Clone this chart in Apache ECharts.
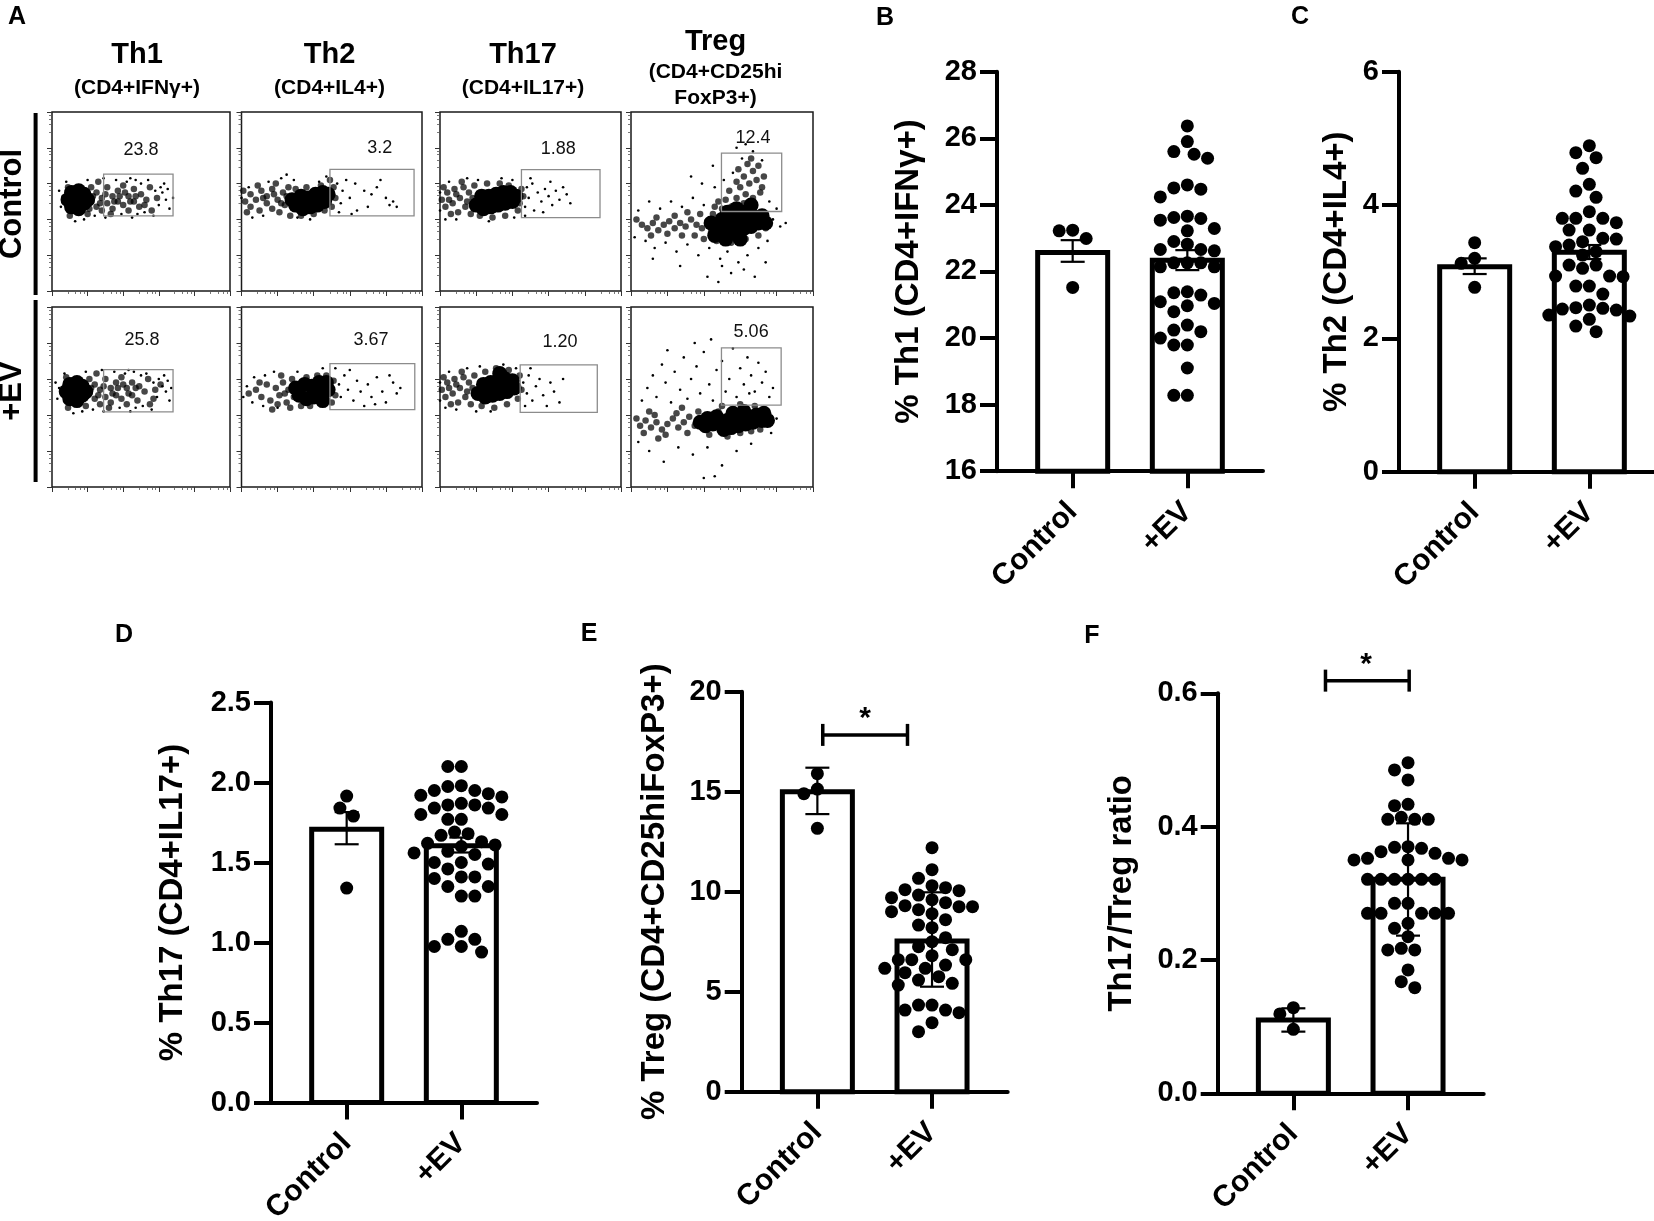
<!DOCTYPE html>
<html>
<head>
<meta charset="utf-8">
<script src="https://cdn.jsdelivr.net/npm/echarts@6/dist/echarts.min.js"></script>
<style>
  html, body { margin: 0; background: #fff; }
  #main { width: 1654px; height: 1221px; }
</style>
</head>
<body>
<div id="main"></div>
<script>
// ---- bar + dot panels (B-F) ----
const groups = ['Control', '+EV'];

const th1Control = [23.22, 23.24, 22.99, 21.52];
const th1EV = [26.37, 25.9, 25.6, 25.52, 25.4, 24.6, 24.51, 24.47, 24.24, 23.66, 23.62, 23.59, 23.54, 23.29,
  23.22, 22.9, 22.82, 22.66, 22.66, 22.62, 22.26, 22.26, 22.26, 22.14, 22.14, 21.39, 21.36, 21.29, 21.09,
  21.04, 20.97, 20.79, 20.39, 20.24, 20.19, 20.0, 19.79, 19.79, 19.1, 18.28, 18.28];
const th1Mean = [22.57, 22.34];
const th1Err = [[22.29, 22.94], [22.04, 22.64]];

const th2Control = [3.435, 3.2, 3.125, 2.765];
const th2EV = [4.89, 4.785, 4.71, 4.55, 4.31, 4.21, 4.115, 3.9, 3.8, 3.8, 3.8, 3.735, 3.625, 3.625, 3.5, 3.49,
  3.45, 3.4, 3.375, 3.3, 3.25, 3.1, 3.1, 3.05, 2.935, 2.935, 2.925, 2.785, 2.785, 2.665, 2.5, 2.46, 2.45, 2.44,
  2.425, 2.35, 2.335, 2.285, 2.185, 2.1];
const th2Mean = [3.075, 3.29];
const th2Err = [[2.965, 3.2], [3.19, 3.4]];

const th17Control = [1.915, 1.84, 1.79, 1.34];
const th17EV = [2.1, 2.1, 1.98, 1.975, 1.95, 1.95, 1.93, 1.92, 1.91, 1.87, 1.86, 1.86, 1.84, 1.84, 1.8, 1.8,
  1.77, 1.77, 1.69, 1.68, 1.67, 1.63, 1.62, 1.61, 1.6, 1.57, 1.56, 1.55, 1.5, 1.5, 1.49, 1.46, 1.41, 1.41, 1.4,
  1.35, 1.35, 1.29, 1.29, 1.07, 1.02, 1.02, 0.975, 0.975, 0.94];
const th17Mean = [1.708, 1.604];
const th17Err = [[1.614, 1.815], [1.5625, 1.656]];

const tregControl = [15.9, 15.13, 14.9, 13.17];
const tregEV = [12.2, 11.1, 10.67, 10.3, 10.2, 10.1, 10.05, 9.83, 9.7, 9.6, 9.45, 9.3, 9.25, 9.25, 9.1, 9.0,
  8.9, 8.6, 8.33, 8.2, 7.7, 7.5, 7.25, 7.1, 6.8, 6.6, 6.6, 6.6, 6.33, 6.17, 6.17, 5.95, 5.75, 5.58, 5.42, 5.33,
  4.33, 4.33, 4.08, 4.08, 3.95, 3.45, 3.0];
const tregMean = [15.0, 7.53];
const tregErr = [[13.88, 16.2], [5.25, 9.97]];
const tregSig = [1.047, 1.786, 17.84];   // from, to, level
const tregStar = [1.417, 19.0];

const ratioControl = [0.1285, 0.119, 0.096];
const ratioEV = [0.496, 0.485, 0.47, 0.4335, 0.4315, 0.414, 0.411, 0.411, 0.411, 0.37, 0.369, 0.3675, 0.3625,
  0.36, 0.3525, 0.3525, 0.35, 0.35, 0.35, 0.321, 0.321, 0.321, 0.321, 0.321, 0.321, 0.285, 0.285, 0.27, 0.27,
  0.27, 0.27, 0.27, 0.255, 0.2475, 0.235, 0.2175, 0.215, 0.215, 0.185, 0.1675, 0.1585];
const ratioMean = [0.11, 0.321];
const ratioErr = [[0.0925, 0.1275], [0.2365, 0.405]];
const ratioSig = [1.28, 2.01, 0.619];
const ratioStar = [1.634, 0.653];

// ---- flow cytometry dot plots (panel A), coordinates in % of plot box ----
const flowTitles = ['Th1', 'Th2', 'Th17', 'Treg'];
const flowSubtitles = [['(CD4+IFNγ+)'], ['(CD4+IL4+)'], ['(CD4+IL17+)'], ['(CD4+CD25hi', 'FoxP3+)']];
const rowLabels = ['Control', '+EV'];
const gateControlPct = ['23.8', '3.2', '1.88', '12.4'];
const gateEVPct = ['25.8', '3.67', '1.20', '5.06'];
const gatesControl = [[29, 42, 68, 65.3], [49, 42, 95.6, 68], [45, 41, 88.4, 67.8], [49.7, 44.4, 82.8, 77]];
const gatesEV = [[29, 41.7, 68, 65.2], [49, 43, 96, 68.5], [44.3, 41.5, 86.9, 67.8], [49.7, 45.5, 82.5, 77.3]];
const gateLabelControl = [[50, 78.6], [76.6, 80], [65.3, 79.4], [67, 85.3]];
const gateLabelEV = [[50.6, 81.5], [71.7, 81.5], [66.3, 80.5], [66, 86]];

const th1CtrlCore = [[11,47],[15,46],[18,49],[11,55],[15,56],[18,54],[14,51],[9,51],[20,51]];
const th1CtrlMid = [[22,50],[25,47],[25,55],[28,52],[28,45],[31,58],[31,49],[34,53],[34,46],[37,56],[37,50],[40,48],
  [40,59],[43,53],[43,45],[46,57],[46,50],[49,47],[50,54],[53,51],[55,58],[56,45],[59,52],[22,58],[20,43],[9,58],[7,50],
  [10,42],[26,61],[33,43],[23,53],[27,49],[30,54],[35,50],[38,53],[41,55],[44,50],[47,53],[52,48],[21,46]];
const th1CtrlSparse = [[6,53],[5,47],[8,61],[20,62],[24,42],[30,41],[36,62],[39,43],[42,61],[47,62],[52,44],[54,62],
  [58,56],[60,48],[62,55],[64,51],[66,46],[63,60],[57,42],[45,41],[48,43],[50,60],[44,63],[29,63],[18,40],[13,39],
  [61,58],[65,57],[4,56],[68,52]];

const th1EvCore = [[10,49],[14,48],[17,51],[10,57],[14,58],[17,56],[13,53],[8,53],[19,53]];
const th1EvMid = [[21,52],[24,49],[24,57],[27,54],[27,46],[30,60],[30,50],[33,55],[33,47],[36,58],[36,51],[39,49],
  [39,61],[42,55],[42,46],[45,58],[45,51],[48,48],[49,56],[52,53],[54,60],[55,46],[58,54],[21,60],[19,45],[8,61],[6,52],
  [9,44],[25,63],[32,44],[57,49],[61,57],[22,55],[26,51],[29,56],[34,52],[37,55],[40,57],[43,52],[47,55]];
const th1EvSparse = [[4,55],[3,49],[7,63],[19,64],[23,43],[29,42],[35,64],[38,44],[41,63],[46,64],[51,45],[53,63],
  [57,58],[59,50],[62,56],[64,53],[66,48],[63,62],[56,43],[44,42],[47,44],[50,62],[43,65],[28,65],[17,42],[12,41],
  [60,60],[65,59],[2,58],[67,55]];

const th2CtrlCore = [[30,48],[34,46],[38,47],[42,48],[46,50],[33,53],[37,52],[41,54],[45,55],[39,50],[48,54],[28,51]];
const th2CtrlMid = [[2,50],[5,47],[5,54],[8,51],[10,45],[11,56],[14,49],[14,53],[17,46],[17,57],[20,51],[21,44],
  [23,55],[24,48],[26,58],[3,44],[1,56],[9,59],[19,60],[27,42],[33,42],[40,43],[46,45],[50,47],[51,58],[44,59],[36,58],
  [30,57],[49,62],[52,52],[12,52],[18,54],[22,49],[25,53]];
const th2CtrlSparse = [[0,52],[4,58],[12,42],[15,61],[22,63],[29,62],[31,41],[38,40],[43,61],[53,60],[55,49],[56,56],
  [58,62],[60,52],[63,60],[68,56],[72,54],[75,58],[80,52],[82,48],[84,50],[86,47],[70,47],[64,45],[77,62],[61,43],
  [54,44],[6,41],[25,65],[47,64]];

const th2EvCore = [[32,51],[36,49],[40,50],[44,52],[48,54],[35,57],[39,56],[43,58],[47,58],[41,54],[30,55],[45,48]];
const th2EvMid = [[4,52],[8,54],[11,50],[14,57],[16,48],[19,55],[21,51],[23,58],[25,47],[26,54],[28,60],[29,50],
  [33,45],[38,45],[47,62],[51,59],[52,51],[50,47],[42,62],[36,61],[27,44],[22,62],[17,43],[10,58],[24,52],[20,46]];
const th2EvSparse = [[1,50],[3,56],[6,47],[7,61],[12,45],[13,62],[18,64],[20,44],[31,64],[54,57],[55,50],[57,62],
  [59,54],[62,48],[64,59],[66,53],[70,57],[72,50],[75,61],[78,53],[80,47],[84,58],[86,52],[88,55],[68,45],[60,65],
  [52,66],[45,66],[82,62],[74,46]];

const th17CtrlCore = [[20,48],[24,46],[28,47],[32,48],[36,49],[40,50],[23,53],[27,53],[31,54],[35,55],[39,55],[30,50],[42,53]];
const th17CtrlMid = [[1,51],[3,47],[4,55],[7,49],[8,57],[10,44],[11,52],[13,58],[14,47],[16,55],[17,43],[19,59],
  [2,58],[6,43],[22,42],[29,41],[36,42],[43,45],[45,57],[44,49],[38,59],[33,60],[26,60],[12,61],[46,53],[5,51],[9,54],
  [15,50],[18,52]];
const th17CtrlSparse = [[0,45],[0,55],[5,61],[9,40],[15,63],[21,62],[27,39],[34,63],[40,62],[41,41],[47,47],[48,58],
  [49,52],[51,60],[52,45],[54,55],[56,50],[58,57],[60,53],[62,48],[64,56],[66,51],[68,58],[70,54],[72,49],[57,44],
  [61,61],[50,63],[47,42],[3,40]];

const th17EvCore = [[21,52],[25,50],[29,51],[33,52],[37,53],[41,55],[24,57],[28,58],[32,59],[36,60],[40,59],[30,55],[33,63]];
const th17EvMid = [[1,54],[3,50],[4,58],[7,52],[8,60],[10,47],[11,55],[13,61],[14,50],[16,58],[17,46],[19,62],
  [2,61],[6,46],[23,45],[30,44],[37,46],[43,49],[44,62],[45,54],[38,65],[31,66],[25,64],[12,64],[5,55],[9,57],
  [15,53],[18,55]];
const th17EvSparse = [[0,48],[0,58],[5,64],[9,43],[15,66],[22,67],[28,42],[35,68],[42,66],[46,58],[48,52],[49,62],
  [51,48],[53,56],[55,60],[57,51],[59,45],[61,58],[63,53],[66,47],[68,60],[47,45],[50,66],[3,44],[20,42]];

const tregCtrlCore = [[48,34],[52,36],[56,37],[60,38],[64,40],[68,41],[54,32],[58,33],[62,35],[66,36],[57,42],
  [61,44],[65,45],[70,38],[50,40],[44,38],[46,31],[72,42],[74,38],[58,46],[53,44],[66,48],[60,29],[52,29]];
const tregCtrlMid = [[6,37],[9,35],[12,38],[15,34],[18,37],[21,39],[24,35],[27,38],[30,36],[33,40],[36,37],[39,35],
  [42,39],[44,33],[45,43],[14,41],[20,32],[28,31],[35,31],[40,29],[47,28],[55,27],[63,29],[70,31],[74,35],[73,44],
  [68,48],[62,49],[55,47],[50,46],[46,47],[58,52],[63,54],[67,52],[71,55],[60,58],[65,60],[69,62],[72,58],[62,64],
  [67,67],[70,70],[64,71],[58,61],[54,56],[66,74],[59,68],[73,64],[52,51],[48,50],[38,43],[31,44],[24,42],[11,31],[3,40]];
const tregCtrlSparse = [[2,30],[4,45],[8,28],[10,50],[13,24],[16,46],[19,27],[22,50],[25,22],[28,47],[31,26],[34,52],
  [37,20],[40,48],[43,24],[46,58],[49,18],[51,62],[53,22],[56,66],[59,16],[61,74],[64,20],[67,78],[70,24],[72,73],
  [75,28],[76,50],[78,40],[80,46],[82,36],[85,38],[42,8],[48,5],[55,10],[62,12],[50,14],[39,60],[33,64],[45,70],
  [12,18],[27,14],[74,16],[68,8],[58,80],[63,82]];

const tregEvCore = [[45,35],[49,36],[53,37],[57,38],[61,38],[65,39],[69,40],[51,32],[55,33],[59,34],[63,35],[67,36],
  [56,41],[62,42],[72,37],[38,36],[41,34],[73,41],[75,37],[47,39],[42,38]];
const tregEvMid = [[5,34],[8,37],[11,33],[14,36],[17,32],[20,35],[23,38],[26,33],[29,36],[32,39],[35,34],[38,37],
  [41,33],[42,40],[7,30],[13,40],[19,29],[25,41],[31,30],[37,42],[43,29],[48,42],[53,28],[60,30],[66,31],[71,32],
  [75,35],[74,42],[68,45],[60,46],[50,45],[3,38],[28,44],[15,27],[10,42]];
const tregEvSparse = [[6,48],[9,55],[12,62],[14,50],[17,68],[19,58],[22,47],[24,64],[27,54],[29,72],[31,49],[33,60],
  [36,67],[38,52],[40,75],[43,57],[45,48],[47,65],[50,70],[52,53],[54,60],[56,77],[58,50],[60,66],[62,57],[64,72],
  [66,62],[68,53],[70,69],[72,58],[74,64],[76,50],[78,55],[35,80],[20,76],[44,82],[4,25],[10,20],[18,14],[26,22],
  [34,18],[42,22],[50,12],[58,20],[66,24],[40,5],[46,6],[77,30],[80,38],[65,52]];

// ---------------------------------------------------------------
const SANS = "'Liberation Sans', Arial, Helvetica, sans-serif";
const NARROW = "'Liberation Sans Narrow', 'Liberation Sans', Arial, sans-serif";

const chart = echarts.init(document.getElementById('main'), null, { width: 1654, height: 1221 });
const grids = [], xAxes = [], yAxes = [], series = [];

// panel A layout
const flowCols = [{ left: 52, width: 178 }, { left: 241.5, width: 180.5 }, { left: 440, width: 181 }, { left: 631, width: 182 }];
const flowRows = [{ top: 112, height: 179 }, { top: 307, height: 180 }];
const flowData = [
  [[th1CtrlCore, th1CtrlMid, th1CtrlSparse], [th2CtrlCore, th2CtrlMid, th2CtrlSparse],
   [th17CtrlCore, th17CtrlMid, th17CtrlSparse], [tregCtrlCore, tregCtrlMid, tregCtrlSparse]],
  [[th1EvCore, th1EvMid, th1EvSparse], [th2EvCore, th2EvMid, th2EvSparse],
   [th17EvCore, th17EvMid, th17EvSparse], [tregEvCore, tregEvMid, tregEvSparse]]
];
const flowLayers = [{ size: 15, opacity: 1 }, { size: 6.5, opacity: 0.72 }, { size: 2.6, opacity: 1 }];

function logDecor(g, pos) {
  return {
    type: 'log', gridIndex: g, min: 1, max: 100000, position: pos,
    axisLine: { show: false },
    axisTick: { show: true, length: 5, lineStyle: { color: '#333', width: 1 } },
    minorTick: { show: true, length: 3, splitNumber: 5, lineStyle: { color: '#555', width: 0.8 } },
    axisLabel: { show: false }, splitLine: { show: false }
  };
}

flowRows.forEach((r, ri) => {
  flowCols.forEach((c, ci) => {
    const g = grids.length;
    grids.push({ left: c.left, top: r.top, width: c.width, height: r.height, show: true,
      borderColor: '#1a1a1a', borderWidth: 1.5, backgroundColor: 'transparent', outerBoundsMode: 'none' });
    const xi = xAxes.length, yi = yAxes.length;
    xAxes.push({ type: 'value', gridIndex: g, min: 0, max: 100, show: false });
    yAxes.push({ type: 'value', gridIndex: g, min: 0, max: 100, show: false });
    xAxes.push(logDecor(g, 'bottom'));
    yAxes.push(logDecor(g, 'left'));
    flowData[ri][ci].forEach((pts, li) => {
      series.push({ type: 'scatter', xAxisIndex: xi, yAxisIndex: yi, data: pts, silent: true, z: 3 - li,
        symbolSize: flowLayers[li].size, itemStyle: { color: '#000', opacity: flowLayers[li].opacity } });
    });
    const gate = (ri ? gatesEV : gatesControl)[ci];
    const lp = (ri ? gateLabelEV : gateLabelControl)[ci];
    const txt = (ri ? gateEVPct : gateControlPct)[ci];
    series.push({
      type: 'custom', xAxisIndex: xi, yAxisIndex: yi, silent: true, z: 5,
      data: [[gate[0], gate[1], gate[2], gate[3], lp[0], lp[1]]],
      renderItem: (p, api) => {
        const a = api.coord([api.value(0), api.value(1)]);
        const b = api.coord([api.value(2), api.value(3)]);
        const t = api.coord([api.value(4), api.value(5)]);
        return { type: 'group', children: [
          { type: 'rect', shape: { x: a[0], y: b[1], width: b[0] - a[0], height: a[1] - b[1] },
            style: { fill: 'none', stroke: '#8c8c8c', lineWidth: 1.3 } },
          { type: 'text', x: t[0], y: t[1], style: { text: txt, fill: '#111', fontSize: 18,
            fontFamily: NARROW, textAlign: 'center', textVerticalAlign: 'middle' } }
        ] };
      }
    });
  });
});

// panels B-F
const X_MIN = 0.34, X_MAX = 2.66, GRID_W = 266;
const barPanels = [
  { left: 997, top: 71.7, height: 399.5, min: 16, max: 28, step: 2, dec: 0, nameGap: 72,
    name: '% Th1 (CD4+IFNγ+)', ctrl: th1Control, ev: th1EV, mean: th1Mean, err: th1Err },
  { left: 1399, top: 71.7, height: 400, min: 0, max: 6, step: 2, dec: 0, nameGap: 46,
    name: '% Th2 (CD4+IL4+)', ctrl: th2Control, ev: th2EV, mean: th2Mean, err: th2Err },
  { left: 271, top: 702.5, height: 400, min: 0, max: 2.5, step: 0.5, dec: 1, nameGap: 82,
    name: '% Th17 (CD4+IL17+)', ctrl: th17Control, ev: th17EV, mean: th17Mean, err: th17Err },
  { left: 741.7, top: 691.7, height: 400, min: 0, max: 20, step: 5, dec: 0, nameGap: 70,
    name: '% Treg (CD4+CD25hiFoxP3+)', ctrl: tregControl, ev: tregEV, mean: tregMean, err: tregErr,
    sig: tregSig, star: tregStar },
  { left: 1217.7, top: 693.3, height: 400, min: 0, max: 0.6, step: 0.2, dec: 1, nameGap: 79,
    name: 'Th17/Treg ratio', ctrl: ratioControl, ev: ratioEV, mean: ratioMean, err: ratioErr,
    sig: ratioSig, star: ratioStar }
];

function swarm(values, center, pxX, pxY) {
  const d = 13.5, step = 6.75, placed = [], out = [];
  const order = values.map((v, i) => i).sort((a, b) => values[b] - values[a]);
  for (const i of order) {
    const py = values[i] * pxY;
    let off = 0;
    for (let k = 0; k < 80; k++) {
      const cand = (k % 2 ? -1 : 1) * Math.ceil(k / 2) * step;
      if (placed.every(p => (p[0] - cand) ** 2 + (p[1] - py) ** 2 >= d * d * 0.97)) { off = cand; break; }
    }
    placed.push([off, py]);
    out[i] = [center + off / pxX, values[i]];
  }
  return out;
}

barPanels.forEach(P => {
  const g = grids.length;
  grids.push({ left: P.left, top: P.top, width: GRID_W, height: P.height, outerBoundsMode: 'none' });
  const xi = xAxes.length, yi = yAxes.length;
  xAxes.push({
    type: 'value', gridIndex: g, min: X_MIN, max: X_MAX,
    axisLine: { show: true, onZero: false, lineStyle: { color: '#000', width: 4 } },
    axisTick: { show: true, customValues: [1, 2], length: 17, lineStyle: { color: '#000', width: 4 } },
    axisLabel: { show: true, customValues: [1, 2], formatter: v => groups[Math.round(v) - 1], rotate: 45,
      margin: 36, fontSize: 30, fontWeight: 'bold', fontFamily: SANS, color: '#000' },
    splitLine: { show: false }
  });
  yAxes.push({
    type: 'value', gridIndex: g, min: P.min, max: P.max, interval: P.step,
    axisLine: { show: true, lineStyle: { color: '#000', width: 4 } },
    axisTick: { show: true, length: 17, lineStyle: { color: '#000', width: 4 } },
    axisLabel: { margin: 20, fontSize: 29, fontWeight: 'bold', fontFamily: SANS, color: '#000',
      formatter: v => v.toFixed(P.dec) },
    splitLine: { show: false },
    name: P.name, nameLocation: 'middle', nameGap: P.nameGap,
    nameTextStyle: { fontSize: 33, fontWeight: 'bold', fontFamily: SANS, color: '#000' }
  });
  const yMin = P.min;
  // bars
  series.push({
    type: 'custom', xAxisIndex: xi, yAxisIndex: yi, z: 2, silent: true,
    data: P.mean.map((m, k) => [k + 1, m]),
    renderItem: (p, api) => {
      const top = api.coord([api.value(0), api.value(1)]);
      const base = api.coord([api.value(0), yMin]);
      return { type: 'rect', shape: { x: top[0] - 35, y: top[1], width: 70, height: base[1] - top[1] },
        style: { fill: '#fff', stroke: '#000', lineWidth: 5 } };
    }
  });
  // error bars
  series.push({
    type: 'custom', xAxisIndex: xi, yAxisIndex: yi, z: 3, silent: true,
    data: P.err.map((e, k) => [k + 1, e[0], e[1]]),
    renderItem: (p, api) => {
      const lo = api.coord([api.value(0), api.value(1)]);
      const hi = api.coord([api.value(0), api.value(2)]);
      const st = { stroke: '#000', lineWidth: 2.2 };
      return { type: 'group', children: [
        { type: 'line', shape: { x1: lo[0], y1: lo[1], x2: hi[0], y2: hi[1] }, style: st },
        { type: 'line', shape: { x1: lo[0] - 12, y1: lo[1], x2: lo[0] + 12, y2: lo[1] }, style: st },
        { type: 'line', shape: { x1: hi[0] - 12, y1: hi[1], x2: hi[0] + 12, y2: hi[1] }, style: st }
      ] };
    }
  });
  // dots
  const pxX = GRID_W / (X_MAX - X_MIN);
  const pxY = P.height / (P.max - P.min);
  [P.ctrl, P.ev].forEach((vals, k) => {
    series.push({ type: 'scatter', xAxisIndex: xi, yAxisIndex: yi, z: 4, silent: true,
      data: swarm(vals, k + 1, pxX, pxY), symbolSize: 13, itemStyle: { color: '#000', opacity: 1 } });
  });
  // significance bracket
  if (P.sig) {
    series.push({
      type: 'custom', xAxisIndex: xi, yAxisIndex: yi, z: 4, silent: true, clip: false,
      data: [[P.sig[0], P.sig[1], P.sig[2], P.star[0], P.star[1]]],
      renderItem: (p, api) => {
        const a = api.coord([api.value(0), api.value(2)]);
        const b = api.coord([api.value(1), api.value(2)]);
        const s = api.coord([api.value(3), api.value(4)]);
        const st = { stroke: '#000', lineWidth: 3.5 };
        return { type: 'group', children: [
          { type: 'line', shape: { x1: a[0], y1: a[1], x2: b[0], y2: b[1] }, style: st },
          { type: 'line', shape: { x1: a[0], y1: a[1] - 11, x2: a[0], y2: a[1] + 11 }, style: st },
          { type: 'line', shape: { x1: b[0], y1: b[1] - 11, x2: b[0], y2: b[1] + 11 }, style: st },
          { type: 'text', x: s[0], y: s[1] + 7, style: { text: '*', fill: '#000', fontSize: 30, fontWeight: 'bold',
            fontFamily: SANS, textAlign: 'center', textVerticalAlign: 'middle' } }
        ] };
      }
    });
  }
});

// texts and decorations
const graphics = [];
function txt(x, y, text, size, opt) {
  graphics.push(Object.assign({ type: 'text', x: x, y: y, silent: true,
    style: { text: text, fill: '#000', fontSize: size, fontWeight: 'bold', fontFamily: SANS,
      textAlign: 'center', textVerticalAlign: 'middle' } }, opt || {}));
}
[['A', 17, 17], ['B', 885, 18], ['C', 1300, 17], ['D', 124, 635], ['E', 589, 634], ['F', 1092, 636]]
  .forEach(l => txt(l[1], l[2], l[0], 25));

const titleX = [137, 329.5, 523, 715.5];
flowTitles.forEach((t, i) => {
  if (flowSubtitles[i].length === 1) {
    txt(titleX[i], 55, t, 29);
    txt(titleX[i], 88, flowSubtitles[i][0], 21);
  } else {
    txt(titleX[i], 41.7, t, 29);
    txt(titleX[i], 72.7, flowSubtitles[i][0], 21);
    txt(titleX[i], 98, flowSubtitles[i][1], 21);
  }
});
txt(12, 204, rowLabels[0], 31, { rotation: Math.PI / 2 });
txt(12, 391, rowLabels[1], 31, { rotation: Math.PI / 2 });
graphics.push({ type: 'line', silent: true, shape: { x1: 35.6, y1: 113, x2: 35.6, y2: 295 }, style: { stroke: '#000', lineWidth: 4 } });
graphics.push({ type: 'line', silent: true, shape: { x1: 35.6, y1: 300, x2: 35.6, y2: 482 }, style: { stroke: '#000', lineWidth: 4 } });

chart.setOption({
  backgroundColor: '#fff',
  animation: false,
  grid: grids,
  xAxis: xAxes,
  yAxis: yAxes,
  series: series,
  graphic: { elements: graphics }
});
</script>
</body>
</html>
